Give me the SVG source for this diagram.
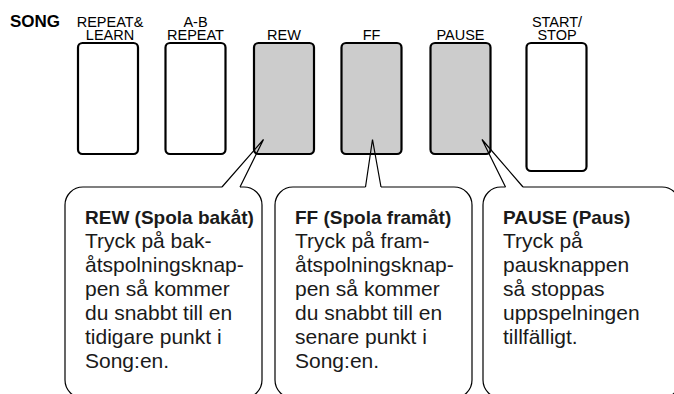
<svg xmlns="http://www.w3.org/2000/svg" width="674" height="394" viewBox="0 0 674 394">
<style>
.lbl{font-family:"Liberation Sans",Arial,sans-serif;font-size:14.5px;fill:#000;text-anchor:middle}
.song{font-family:"Liberation Sans",Arial,sans-serif;font-size:17px;font-weight:bold;fill:#000}
.btn{stroke:#000;stroke-width:2.2;fill:#fff}
.on{fill:#cccccc}
.box{fill:none;stroke:#000;stroke-width:1.2;stroke-linejoin:miter}
.h{font-family:"Liberation Sans",Arial,sans-serif;font-size:19px;font-weight:bold;fill:#1a1a1a}
.t{font-family:"Liberation Sans",Arial,sans-serif;font-size:21px;fill:#1a1a1a}
</style>
<rect width="674" height="394" fill="#fff"/>
<text class="song" x="10" y="27">SONG</text>

<g id="btn-repeat-learn">
<text class="lbl" x="110" y="26.5">REPEAT&amp;</text>
<text class="lbl" x="110" y="39.5">LEARN</text>
<rect class="btn" x="78" y="43" width="60" height="111" rx="4.5"/>
</g>
<g id="btn-ab-repeat">
<text class="lbl" x="195.5" y="26.5">A-B</text>
<text class="lbl" x="195.5" y="39.5">REPEAT</text>
<rect class="btn" x="165.5" y="43" width="60" height="111" rx="4.5"/>
</g>
<g id="btn-rew">
<text class="lbl" x="284" y="39.5">REW</text>
<rect class="btn on" x="254" y="43" width="60" height="111" rx="4.5"/>
</g>
<g id="btn-ff">
<text class="lbl" x="371.5" y="39.5">FF</text>
<rect class="btn on" x="341.5" y="43" width="60" height="111" rx="4.5"/>
</g>
<g id="btn-pause">
<text class="lbl" x="460.5" y="39.5">PAUSE</text>
<rect class="btn on" x="430.5" y="43" width="60" height="111" rx="4.5"/>
</g>
<g id="btn-start-stop">
<text class="lbl" x="557" y="26.5">START/</text>
<text class="lbl" x="557" y="39.5">STOP</text>
<rect class="btn" x="526.5" y="43" width="60" height="128" rx="4.5"/>
</g>

<g id="connectors">
<path class="box" d="M222,187 L263.5,139.5 L240,187"/>
<path class="box" d="M365.5,187 L372.5,139.5 L381,187"/>
<path class="box" d="M505.5,187 L482,139.5 L523,187"/>
</g>

<g id="callout-rew">
<path class="box" d="M222,187 H83 A18,18 0 0 0 65,205 V380 A18,18 0 0 0 83,398 H244 A18,18 0 0 0 262,380 V205 A18,18 0 0 0 244,187 H240"/>
<text class="h" x="85" y="224">REW (Spola bakåt)</text>
<text class="t" x="85" y="248">Tryck på bak-</text>
<text class="t" x="85" y="272">åtspolningsknap-</text>
<text class="t" x="85" y="296">pen så kommer</text>
<text class="t" x="85" y="320">du snabbt till en</text>
<text class="t" x="85" y="344">tidigare punkt i</text>
<text class="t" x="85" y="368">Song:en.</text>
</g>
<g id="callout-ff">
<path class="box" d="M365.5,187 H293 A18,18 0 0 0 275,205 V380 A18,18 0 0 0 293,398 H454 A18,18 0 0 0 472,380 V205 A18,18 0 0 0 454,187 H381"/>
<text class="h" x="295" y="224">FF (Spola framåt)</text>
<text class="t" x="295" y="248">Tryck på fram-</text>
<text class="t" x="295" y="272">åtspolningsknap-</text>
<text class="t" x="295" y="296">pen så kommer</text>
<text class="t" x="295" y="320">du snabbt till en</text>
<text class="t" x="295" y="344">senare punkt i</text>
<text class="t" x="295" y="368">Song:en.</text>
</g>
<g id="callout-pause">
<path class="box" d="M505.5,187 H501 A18,18 0 0 0 483,205 V380 A18,18 0 0 0 501,398 H662 A18,18 0 0 0 680,380 V205 A18,18 0 0 0 662,187 H523"/>
<text class="h" x="503" y="224">PAUSE (Paus)</text>
<text class="t" x="503" y="248">Tryck på</text>
<text class="t" x="503" y="272">pausknappen</text>
<text class="t" x="503" y="296">så stoppas</text>
<text class="t" x="503" y="320">uppspelningen</text>
<text class="t" x="503" y="344">tillfälligt.</text>
</g>
</svg>
